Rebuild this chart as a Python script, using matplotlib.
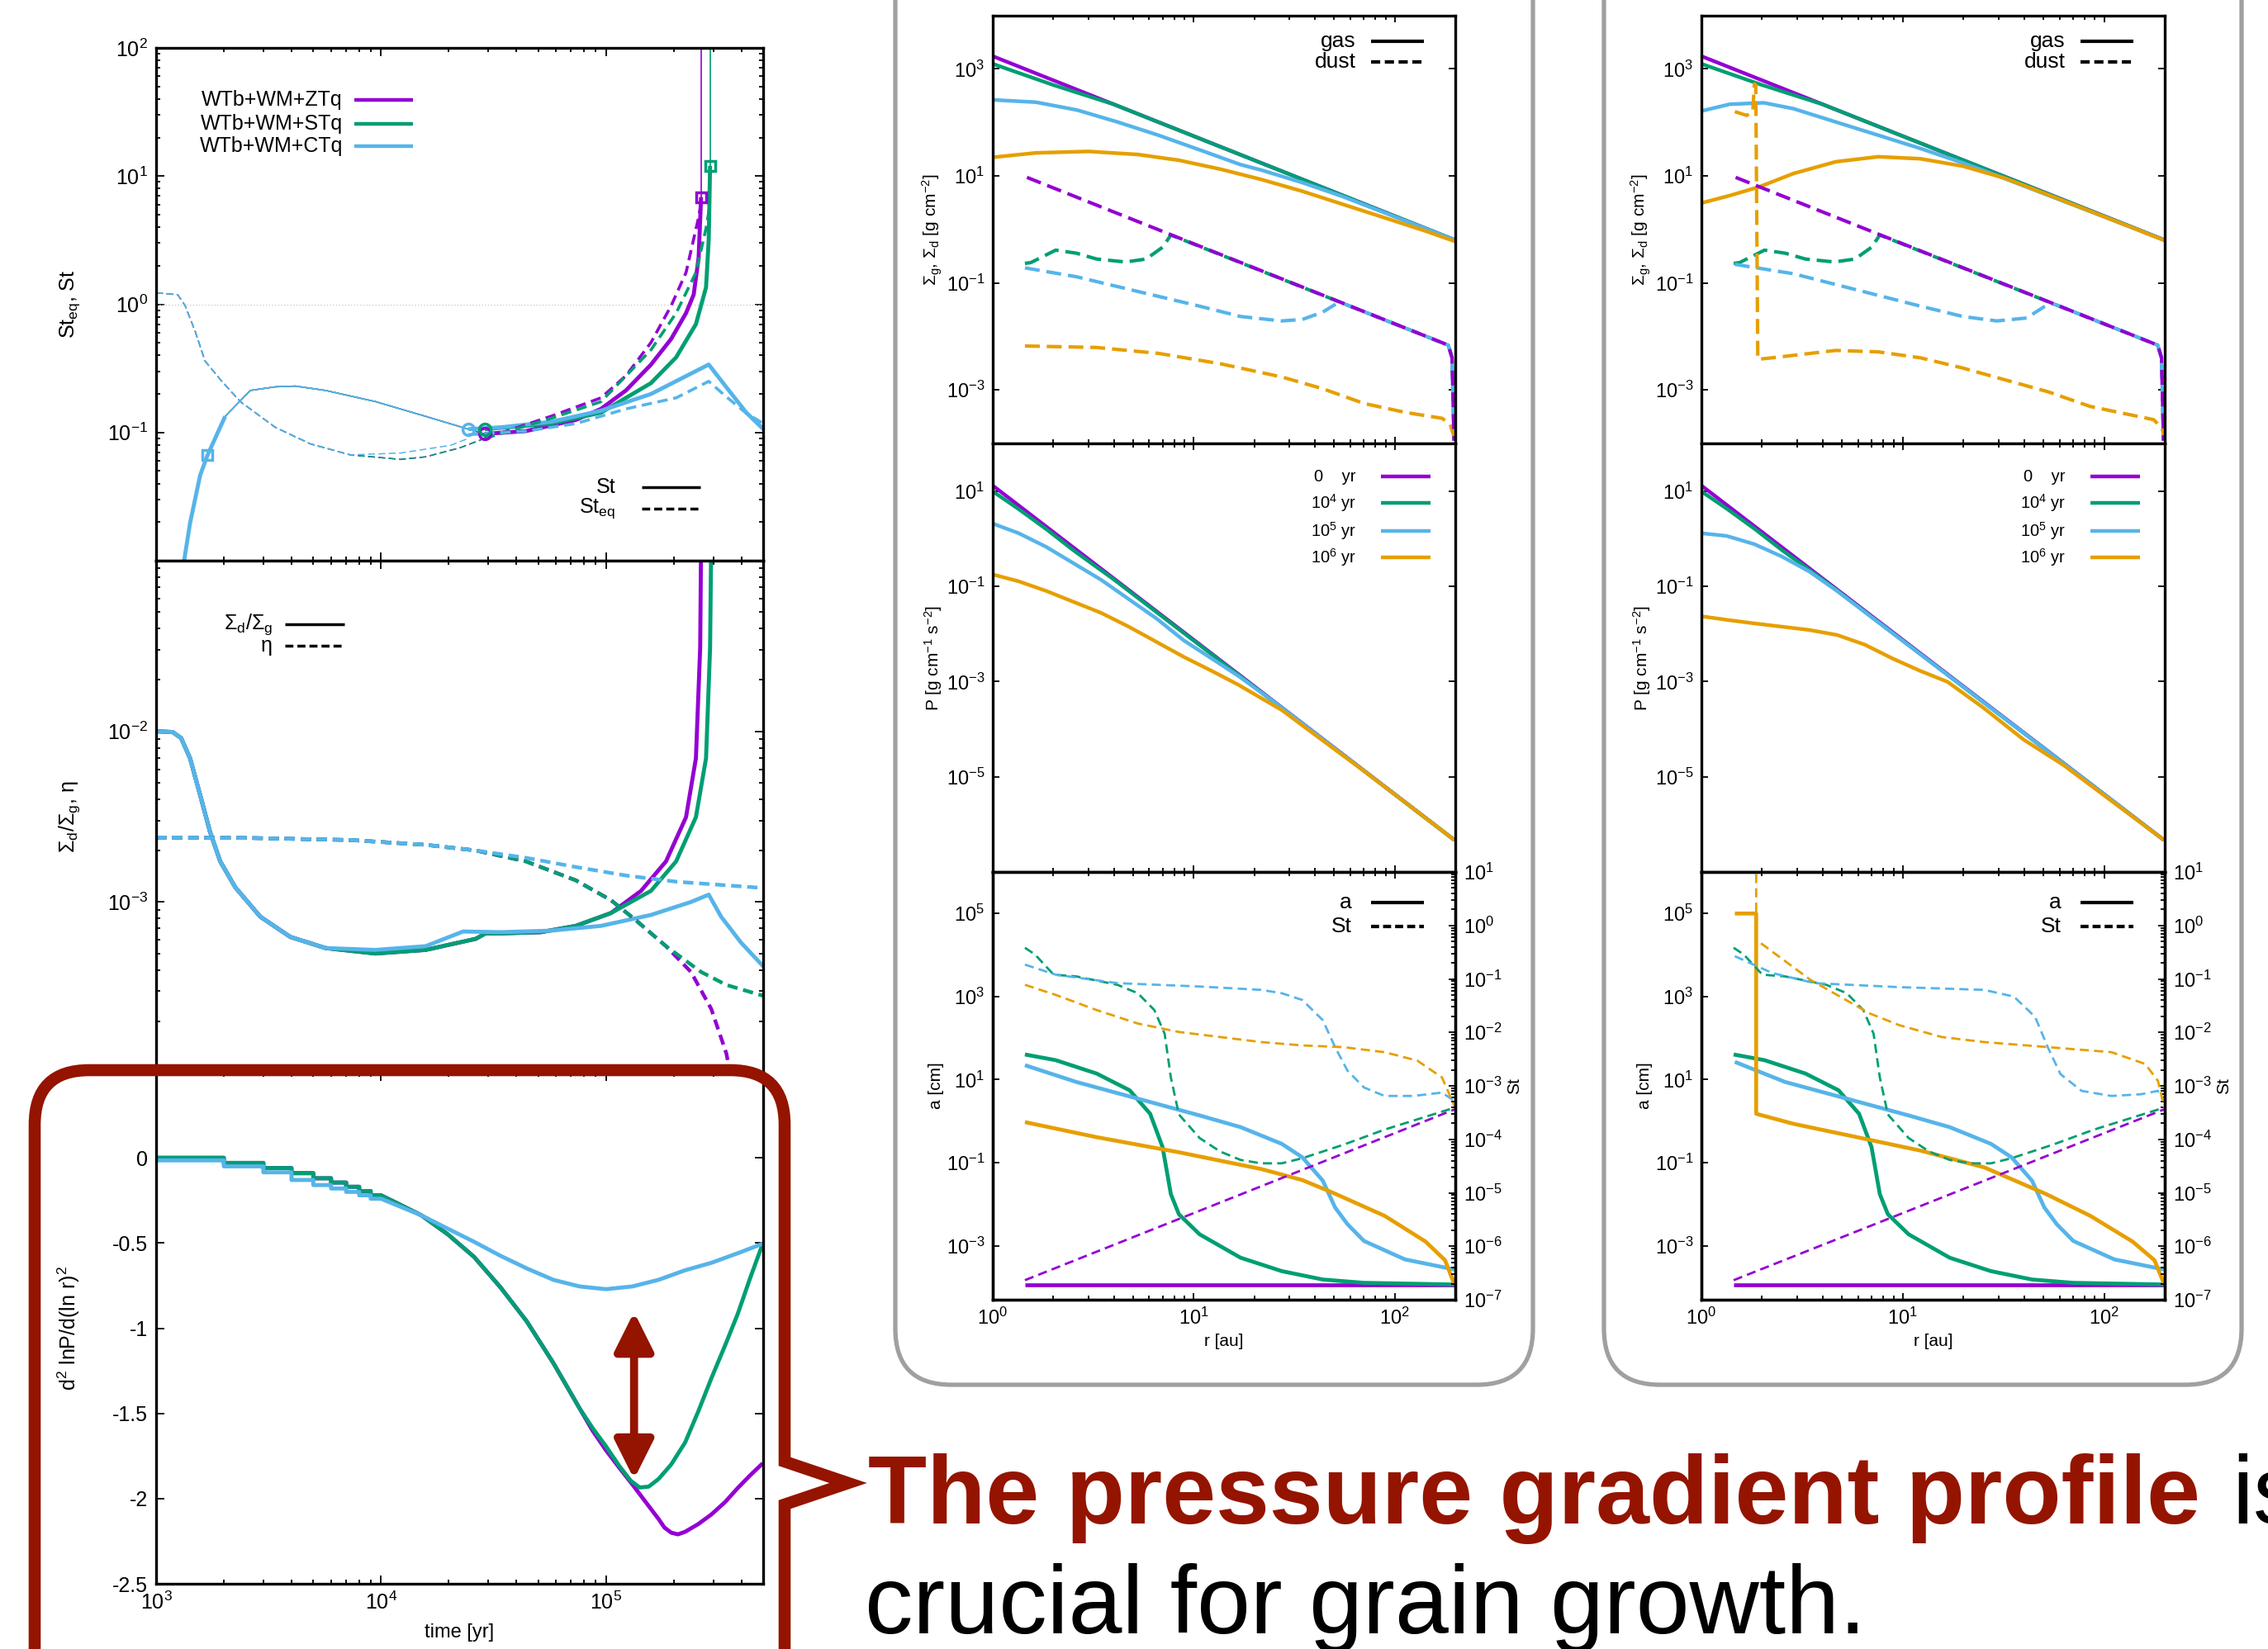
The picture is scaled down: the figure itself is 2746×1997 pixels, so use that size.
import numpy as np
import matplotlib.pyplot as plt
from matplotlib.path import Path
from matplotlib.patches import PathPatch, FancyArrowPatch
from matplotlib.ticker import LogLocator, NullLocator, NullFormatter

plt.rcParams['font.family'] = ['Liberation Sans', 'DejaVu Sans']
plt.rcParams['mathtext.fontset'] = 'custom'
plt.rcParams['mathtext.rm'] = 'Liberation Sans'
plt.rcParams['mathtext.it'] = 'Liberation Sans:italic'
plt.rcParams['mathtext.bf'] = 'Liberation Sans:bold'
plt.rcParams['mathtext.default'] = 'regular'
plt.rcParams['axes.unicode_minus'] = False
plt.rcParams['lines.scale_dashes'] = False
plt.rcParams['lines.solid_capstyle'] = 'butt'

# --- CONFIG ---
W, H, DPI = 2746, 1997, 100
PURPLE = '#9400d3'
GREEN = '#009e73'
BLUE = '#56b4e9'
ORANGE = '#e69f00'
RED = '#941400'
GRAY = '#a0a0a0'

# --- DATA (log10 of values) ---
# left column, top: St and St_eq against time [yr]
ST_THIN_T = [3.12, 3.151, 3.196, 3.229, 3.307, 3.419, 3.53, 3.619, 3.753, 3.975, 4.198, 4.388, 4.461]
ST_THIN_V = [-2.05, -1.707, -1.333, -1.175, -0.874, -0.672, -0.644, -0.638, -0.672, -0.759, -0.874, -0.974, -1.011]
ST_Z_T = [4.461, 4.644, 4.866, 4.978, 5.089, 5.2, 5.29, 5.356, 5.39, 5.412, 5.423]
ST_Z_V = [-1.011, -0.989, -0.902, -0.816, -0.672, -0.471, -0.27, -0.069, 0.075, 0.362, 0.836]
ST_S_T = [4.461, 4.755, 4.978, 5.2, 5.312, 5.4, 5.445, 5.457, 5.463]
ST_S_V = [-0.974, -0.931, -0.845, -0.615, -0.414, -0.155, 0.132, 0.506, 1.08]
ST_C_T = [4.388, 4.532, 4.755, 4.978, 5.2, 5.457, 5.534, 5.624, 5.70]
ST_C_V = [-0.974, -0.96, -0.917, -0.83, -0.70, -0.47, -0.644, -0.845, -0.974]
ST_ESC_T = [5.423, 5.463]
ST_ESC_V = [0.836, 1.08]

EQ_THIN_T = [3.0, 3.096, 3.129, 3.174, 3.218, 3.285, 3.374, 3.53, 3.686, 3.864]
EQ_THIN_V = [0.089, 0.075, -0.01, -0.213, -0.443, -0.586, -0.759, -0.96, -1.089, -1.175]
EQ_THIN_C_T = [4.087, 4.31, 4.388]
EQ_THIN_C_V = [-1.16, -1.10, -1.046]
EQ_THIN_ZS_T = [4.087, 4.198, 4.35, 4.461]
EQ_THIN_ZS_V = [-1.21, -1.19, -1.12, -1.046]
EQ_Z_T = [4.461, 4.755, 4.978, 5.089, 5.2, 5.29, 5.356, 5.412, 5.423]
EQ_Z_V = [-1.046, -0.874, -0.73, -0.557, -0.299, -0.011, 0.247, 0.678, 0.79]
EQ_S_T = [4.461, 4.755, 4.978, 5.2, 5.312, 5.4, 5.445, 5.46]
EQ_S_V = [-1.046, -0.89, -0.76, -0.356, -0.069, 0.247, 0.592, 0.75]
EQ_C_T = [4.388, 4.644, 4.866, 5.089, 5.312, 5.457, 5.534, 5.624, 5.70]
EQ_C_V = [-1.017, -0.989, -0.931, -0.816, -0.73, -0.601, -0.72, -0.85, -0.931]

SQ_T = [5.423, 5.463, 3.229]
SQ_V = [0.836, 1.08, -1.175]
CIRC_T = [4.461, 4.461, 4.388]
CIRC_V = [-1.011, -0.974, -0.974]

# left column, middle: dust-to-gas ratio and eta
DG_SH_T = [3.0, 3.073, 3.111, 3.151, 3.196, 3.24, 3.285, 3.352, 3.463, 3.597, 3.753]
DG_SH_V = [-2.0, -2.004, -2.039, -2.158, -2.374, -2.59, -2.762, -2.914, -3.086, -3.205, -3.27]
DG_Z_T = [3.975, 4.198, 4.421, 4.465, 4.532, 4.71, 4.866, 5.022, 5.156, 5.267, 5.356, 5.4, 5.419, 5.423]
DG_Z_V = [-3.302, -3.281, -3.216, -3.184, -3.184, -3.177, -3.14, -3.065, -2.935, -2.762, -2.503, -2.158, -1.51, -0.9]
DG_S_T = [3.975, 4.198, 4.421, 4.465, 4.532, 4.71, 4.866, 5.022, 5.2, 5.312, 5.4, 5.445, 5.463, 5.468]
DG_S_V = [-3.302, -3.281, -3.216, -3.184, -3.184, -3.177, -3.14, -3.065, -2.935, -2.762, -2.503, -2.158, -1.51, -0.9]
DG_C_T = [3.975, 4.198, 4.365, 4.532, 4.755, 4.978, 5.2, 5.378, 5.457, 5.512, 5.6, 5.7]
DG_C_V = [-3.281, -3.259, -3.173, -3.177, -3.168, -3.14, -3.076, -3.0, -2.957, -3.086, -3.237, -3.378]

ETA_C_T = [3.0, 3.419, 3.864, 4.198, 4.421, 4.644, 4.866, 5.089, 5.312, 5.70]
ETA_C_V = [-2.622, -2.625, -2.637, -2.665, -2.698, -2.741, -2.795, -2.845, -2.881, -2.918]
ETA_Z_T = [3.0, 3.419, 3.864, 4.198, 4.421, 4.644, 4.866, 5.022, 5.134, 5.267, 5.378, 5.468, 5.535, 5.568, 5.6]
ETA_Z_V = [-2.622, -2.625, -2.637, -2.665, -2.698, -2.762, -2.873, -2.989, -3.108, -3.259, -3.41, -3.626, -3.886, -4.1, -4.4]
ETA_S_T = [3.0, 3.419, 3.864, 4.198, 4.421, 4.644, 4.866, 5.022, 5.134, 5.267, 5.423, 5.535, 5.70]
ETA_S_V = [-2.622, -2.625, -2.637, -2.665, -2.698, -2.762, -2.873, -2.989, -3.108, -3.259, -3.41, -3.486, -3.55]

# left column, bottom: d2 lnP / d(ln r)2 (linear values, time in log10)
D2_EARLY_T = [3.0, 3.301, 3.301, 3.477, 3.477, 3.602, 3.602, 3.699, 3.699, 3.778, 3.778, 3.845, 3.845,
              3.903, 3.903, 3.954, 3.954, 4.0, 4.062, 4.18, 4.297, 4.414, 4.531, 4.648, 4.766, 4.883]
D2_EARLY_V = [0.0, 0.0, -0.03, -0.03, -0.06, -0.06, -0.09, -0.09, -0.12, -0.12, -0.145, -0.145, -0.17,
              -0.17, -0.195, -0.195, -0.22, -0.22, -0.26, -0.338, -0.449, -0.582, -0.76, -0.96, -1.204, -1.471]
D2_Z_T = [4.94, 5.0, 5.06, 5.117, 5.188, 5.234, 5.26, 5.29, 5.32, 5.352, 5.41, 5.469, 5.53, 5.586, 5.64, 5.697]
D2_Z_V = [-1.60, -1.716, -1.82, -1.916, -2.04, -2.12, -2.17, -2.20, -2.21, -2.195, -2.15, -2.093, -2.02,
          -1.938, -1.865, -1.793]
D2_S_T = [4.94, 5.0, 5.06, 5.11, 5.15, 5.19, 5.234, 5.29, 5.352, 5.41, 5.469, 5.53, 5.586, 5.64, 5.697]
D2_S_V = [-1.585, -1.693, -1.81, -1.895, -1.935, -1.93, -1.885, -1.80, -1.671, -1.49, -1.293, -1.10, -0.916,
          -0.71, -0.504]
D2_C_T = [3.0, 3.301, 3.301, 3.477, 3.477, 3.602, 3.602, 3.699, 3.699, 3.778, 3.778, 3.845, 3.845,
          3.903, 3.903, 3.954, 3.954, 4.0, 4.18, 4.297, 4.414, 4.531, 4.648, 4.766, 4.883, 5.0, 5.117,
          5.234, 5.352, 5.469, 5.586, 5.697]
D2_C_V = [-0.015, -0.015, -0.05, -0.05, -0.085, -0.085, -0.13, -0.13, -0.16, -0.16, -0.18, -0.18, -0.2,
          -0.2, -0.22, -0.22, -0.24, -0.24, -0.338, -0.416, -0.493, -0.575, -0.649, -0.716, -0.755, -0.771,
          -0.755, -0.716, -0.66, -0.616, -0.56, -0.504]
ARROW_T = 5.125
ARROW_V = (-0.905, -1.886)

# radial panels: shared curves (0 yr and 1e4 yr)
SG_P_R = [0.0, 2.3]
SG_P = [3.237, -0.2]
SG_G_R = [0.0, 0.3, 0.6, 2.3]
SG_G = [3.094, 2.70, 2.34, -0.2]
SD_P_R = [0.17, 2.266, 2.285, 2.295]
SD_P = [0.972, -2.163, -2.4, -3.95]
SD_G_R = [0.16, 0.19, 0.313, 0.415, 0.517, 0.66, 0.763, 0.845, 0.886, 2.266, 2.285, 2.295]
SD_G = [-0.636, -0.62, -0.388, -0.444, -0.554, -0.609, -0.554, -0.333, -0.105, -2.163, -2.4, -3.95]
P_P_R = [0.0, 2.297]
P_P = [1.115, -6.33]
P_G_R = [0.0, 0.129, 0.266, 0.403, 0.6, 2.297]
P_G = [0.993, 0.62, 0.2, -0.25, -0.85, -6.33]
A_P_R = [0.16, 2.297]
A_P = [-3.952, -3.952]
A_G_R = [0.16, 0.313, 0.517, 0.681, 0.783, 0.845, 0.886, 0.926, 1.029, 1.233, 1.438, 1.642, 1.847, 2.297]
A_G = [1.605, 1.468, 1.145, 0.742, 0.177, -0.629, -1.758, -2.242, -2.726, -3.29, -3.613, -3.815, -3.895, -3.935]
ST_P_R = [0.16, 2.297]
ST_P = [-6.635, -3.441]
ST_G_R = [0.16, 0.21, 0.303, 0.415, 0.62, 0.722, 0.804, 0.855, 0.886, 0.926, 1.029, 1.131, 1.233,
          1.335, 1.438, 1.54, 1.744, 1.949, 2.297]
ST_G = [-0.417, -0.543, -0.921, -0.953, -1.11, -1.268, -1.583, -2.024, -2.843, -3.535, -3.976, -4.228,
        -4.386, -4.449, -4.449, -4.354, -4.102, -3.819, -3.409]

# middle box (10^5 and 10^6 yr)
M_SG_B_R = [0.0, 0.215, 0.42, 0.62, 0.824, 1.03, 1.233, 1.335, 1.54, 1.744, 2.3]
M_SG_B = [2.421, 2.377, 2.23, 2.008, 1.76, 1.485, 1.21, 1.11, 0.875, 0.61, -0.2]
M_SG_O_R = [0.0, 0.215, 0.476, 0.722, 0.926, 1.131, 1.335, 1.54, 1.744, 1.949, 2.153, 2.3]
M_SG_O = [1.347, 1.43, 1.457, 1.40, 1.292, 1.127, 0.934, 0.713, 0.466, 0.218, -0.03, -0.225]
M_SD_B_R = [0.16, 0.415, 0.722, 1.029, 1.233, 1.438, 1.54, 1.642, 1.724, 2.266, 2.285, 2.295]
M_SD_B = [-0.719, -0.884, -1.16, -1.435, -1.628, -1.711, -1.683, -1.545, -1.355, -2.163, -2.4, -3.95]
M_SD_O_R = [0.16, 0.517, 0.824, 1.131, 1.438, 1.642, 1.847, 2.051, 2.235, 2.276, 2.297]
M_SD_O = [-2.179, -2.207, -2.317, -2.51, -2.758, -2.978, -3.253, -3.419, -3.53, -3.64, -3.91]
M_P_B_R = [0.0, 0.129, 0.266, 0.403, 0.54, 0.677, 0.814, 0.951, 1.088, 1.224, 1.4, 2.297]
M_P_B = [0.317, 0.114, -0.173, -0.52, -0.867, -1.272, -1.676, -2.139, -2.514, -2.889, -3.43, -6.33]
M_P_O_R = [0.0, 0.129, 0.266, 0.403, 0.54, 0.677, 0.814, 0.951, 1.088, 1.224, 1.438, 1.642, 1.847, 2.297]
M_P_O = [-0.752, -0.896, -1.098, -1.329, -1.561, -1.85, -2.167, -2.485, -2.774, -3.074, -3.6, -4.24, -4.88, -6.33]
M_A_B_R = [0.16, 0.415, 0.722, 1.029, 1.233, 1.438, 1.54, 1.642, 1.703, 1.765, 1.847, 2.051, 2.297]
M_A_B = [1.347, 0.944, 0.54, 0.137, -0.145, -0.548, -0.871, -1.435, -2.08, -2.484, -2.887, -3.331, -3.573]
M_A_O_R = [0.16, 0.517, 0.926, 1.335, 1.54, 1.69, 1.949, 2.153, 2.25, 2.297]
M_A_O = [-0.024, -0.387, -0.75, -1.153, -1.42, -1.72, -2.28, -2.9, -3.35, -3.935]
M_ST_B_R = [0.16, 0.313, 0.62, 1.029, 1.335, 1.438, 1.54, 1.642, 1.703, 1.765, 1.847, 1.949, 2.092, 2.235, 2.297]
M_ST_B = [-0.732, -0.921, -1.079, -1.142, -1.205, -1.268, -1.394, -1.772, -2.276, -2.717, -3.031, -3.189,
          -3.189, -3.126, -3.283]
M_ST_O_R = [0.16, 0.313, 0.517, 0.722, 0.926, 1.131, 1.335, 1.54, 1.744, 1.949, 2.112, 2.235, 2.297]
M_ST_O = [-1.11, -1.299, -1.583, -1.835, -1.992, -2.087, -2.181, -2.244, -2.276, -2.37, -2.528, -2.843, -3.378]

# right box (10^5 and 10^6 yr)
R_SG_B_R = [0.0, 0.14, 0.31, 0.457, 0.667, 0.878, 1.088, 1.3, 1.5, 2.3]
R_SG_B = [2.212, 2.339, 2.366, 2.256, 2.008, 1.76, 1.512, 1.24, 0.96, -0.2]
R_SG_O_R = [0.0, 0.14, 0.288, 0.457, 0.667, 0.878, 1.088, 1.299, 1.509, 1.72, 1.931, 2.141, 2.299]
R_SG_O = [0.493, 0.631, 0.796, 1.044, 1.264, 1.358, 1.32, 1.182, 0.955, 0.65, 0.34, 0.03, -0.205]
R_SD_B_R = [0.166, 0.457, 0.773, 1.088, 1.299, 1.467, 1.615, 1.70, 1.75, 2.266, 2.285, 2.295]
R_SD_B = [-0.653, -0.829, -1.132, -1.435, -1.628, -1.711, -1.656, -1.45, -1.394, -2.163, -2.4, -3.95]
R_SD_O_R = [0.166, 0.225, 0.255, 0.263, 0.27, 0.28, 0.352, 0.667, 0.878, 1.088, 1.299, 1.509, 1.72,
            1.931, 2.141, 2.246, 2.288, 2.299]
R_SD_O = [2.201, 2.13, 2.2, 2.72, 2.70, -2.427, -2.4, -2.262, -2.289, -2.4, -2.592, -2.813, -3.033,
          -3.309, -3.474, -3.556, -3.72, -3.915]
R_P_B_R = [0.0, 0.126, 0.263, 0.4, 0.537, 0.674, 0.811, 0.948, 1.085, 1.222, 2.297]
R_P_B = [0.114, 0.057, -0.116, -0.376, -0.693, -1.10, -1.54, -1.98, -2.42, -2.86, -6.33]
R_P_O_R = [0.0, 0.126, 0.263, 0.4, 0.537, 0.674, 0.811, 0.948, 1.085, 1.222, 1.4, 1.6, 1.8, 2.297]
R_P_O = [-1.63, -1.705, -1.78, -1.849, -1.918, -2.023, -2.225, -2.514, -2.774, -3.006, -3.55, -4.22, -4.76, -6.33]
R_A_B_R = [0.166, 0.415, 0.722, 1.029, 1.233, 1.438, 1.54, 1.642, 1.703, 1.765, 1.847, 2.051, 2.297]
R_A_B = [1.427, 0.944, 0.54, 0.137, -0.145, -0.548, -0.871, -1.435, -2.08, -2.484, -2.887, -3.331, -3.573]
R_A_O_R = [0.166, 0.263, 0.272, 0.272, 0.457, 0.773, 1.088, 1.404, 1.709, 1.931, 2.141, 2.25, 2.299]
R_A_O = [5.0, 5.0, 5.0, 0.177, -0.065, -0.387, -0.71, -1.113, -1.75, -2.28, -2.9, -3.35, -3.935]
R_ST_B_R = [0.166, 0.352, 0.562, 0.983, 1.404, 1.552, 1.657, 1.72, 1.783, 1.888, 2.036, 2.183, 2.267, 2.299]
R_ST_B = [-0.575, -0.89, -1.079, -1.154, -1.205, -1.331, -1.709, -2.276, -2.78, -3.094, -3.189, -3.157,
          -3.094, -3.283]
R_ST_O_R = [0.272, 0.272, 0.28, 0.541, 0.836, 0.983, 1.194, 1.404, 1.615, 1.825, 2.036, 2.204, 2.267, 2.299]
R_ST_O = [1.5, -0.26, -0.29, -1.016, -1.646, -1.866, -2.087, -2.181, -2.244, -2.307, -2.37, -2.591, -2.906, -3.409]

RUN_LABELS = ['WTb+WM+ZTq', 'WTb+WM+STq', 'WTb+WM+CTq']
YEAR_LABELS = ['0    yr', r'$10^4$ yr', r'$10^5$ yr', r'$10^6$ yr']


# --- HELPERS ---
fig = plt.figure(figsize=(W / DPI, H / DPI), dpi=DPI)


def frame(x0, y0, x1, y1):
    """axes from pixel box (top-left origin)"""
    return fig.add_axes([x0 / W, 1 - y1 / H, (x1 - x0) / W, (y1 - y0) / H])


def lg(v):
    return np.power(10.0, np.asarray(v, dtype=float))


def curve(ax, lx, ly, color, lw, dash=None, logy=True, **kw):
    y = lg(ly) if logy else np.asarray(ly, dtype=float)
    ln, = ax.plot(lg(lx), y, color=color, lw=lw, **kw)
    if dash is not None:
        ln.set_dashes(dash)
    return ln


def style(ax, fs, maj=7, mnr=3.5):
    ax.tick_params(which='both', direction='in', top=True, right=True, width=1.3, labelsize=fs)
    ax.tick_params(which='major', length=maj, pad=7)
    ax.tick_params(which='minor', length=mnr)
    ax.xaxis.set_minor_formatter(NullFormatter())
    ax.yaxis.set_minor_formatter(NullFormatter())
    for s in ax.spines.values():
        s.set_linewidth(2.4)


def pow_labels(exps):
    return [r'$10^{%d}$' % e for e in exps]


def key(ax, xt, x0, x1, y, label, color='black', lw=3, dash=None, fs=18):
    ax.text(xt, y, label, transform=ax.transAxes, ha='right', va='center', fontsize=fs)
    ln, = ax.plot([x0, x1], [y, y], transform=ax.transAxes, color=color, lw=lw, clip_on=False)
    if dash is not None:
        ln.set_dashes(dash)


def time_axis(ax, labels):
    ax.set_xscale('log')
    ax.set_xlim(1e3, 5e5)
    if labels:
        ax.set_xticks([1e3, 1e4, 1e5], pow_labels([3, 4, 5]))
    else:
        ax.set_xticks([1e3, 1e4, 1e5], ['', '', ''])
    ax.xaxis.set_minor_locator(LogLocator(subs=np.arange(2, 10), numticks=30))


def r_axis(ax, labels):
    ax.set_xscale('log')
    ax.set_xlim(1, 200)
    if labels:
        ax.set_xticks([1, 10, 100], pow_labels([0, 1, 2]))
    else:
        ax.set_xticks([1, 10, 100], ['', '', ''])
    ax.xaxis.set_minor_locator(LogLocator(subs=np.arange(2, 10), numticks=30))


# --- LEFT COLUMN ---
def left_column():
    DASH = (9, 5)
    axA = frame(189, 58, 924, 679)
    axB = frame(189, 679, 924, 1299)
    axC = frame(189, 1299, 924, 1918)
    for ax in (axA, axB, axC):
        style(ax, 18)

    # St / St_eq
    time_axis(axA, False)
    axA.set_yscale('log')
    axA.set_ylim(1e-2, 1e2)
    axA.set_yticks([1e-2, 1e-1, 1, 10, 100], [''] + pow_labels([-1, 0, 1, 2]))
    axA.yaxis.set_minor_locator(LogLocator(subs=np.arange(2, 10), numticks=30))
    axA.axhline(1.0, color='#c8c8c8', lw=0.8, ls=':')
    for c in (PURPLE, GREEN):
        curve(axA, ST_THIN_T, ST_THIN_V, c, 1.1)
        curve(axA, EQ_THIN_T + EQ_THIN_ZS_T, EQ_THIN_V + EQ_THIN_ZS_V, c, 1.1, dash=(6, 3))
    curve(axA, ST_THIN_T[:-1], ST_THIN_V[:-1], BLUE, 1.1)
    curve(axA, EQ_THIN_T + EQ_THIN_C_T, EQ_THIN_V + EQ_THIN_C_V, BLUE, 1.1, dash=(6, 3))
    curve(axA, ST_THIN_T[:5], ST_THIN_V[:5], BLUE, 3.5)
    curve(axA, ST_Z_T, ST_Z_V, PURPLE, 3.5)
    curve(axA, ST_S_T, ST_S_V, GREEN, 3.5)
    curve(axA, ST_C_T, ST_C_V, BLUE, 3.5)
    curve(axA, EQ_Z_T, EQ_Z_V, PURPLE, 2.6, dash=DASH)
    curve(axA, EQ_S_T, EQ_S_V, GREEN, 2.6, dash=DASH)
    curve(axA, EQ_C_T, EQ_C_V, BLUE, 2.6, dash=DASH)
    for t, v, c in zip(ST_ESC_T, ST_ESC_V, (PURPLE, GREEN)):
        curve(axA, [t, t], [v, 2.5], c, 1.2)
    for t, v, c in zip(SQ_T, SQ_V, (PURPLE, GREEN, BLUE)):
        axA.plot(lg(t), lg(v), 's', ms=9, mfc='none', mec=c, mew=2.5)
    for t, v, c in zip(CIRC_T, CIRC_V, (PURPLE, GREEN, BLUE)):
        axA.plot(lg(t), lg(v), 'o', ms=10, mfc='none', mec=c, mew=2.5)
    axA.set_ylabel(r'$St_{eq}$, St', fontsize=18)
    axA.yaxis.set_label_coords(-0.122, 0.5)
    for i, (lab, c) in enumerate(zip(RUN_LABELS, (PURPLE, GREEN, BLUE))):
        key(axA, 0.3075, 0.3265, 0.423, [0.8986, 0.852, 0.8084][i], lab, c, lw=3.2, fs=18)
    key(axA, 0.7565, 0.80, 0.8966, 0.1433, 'St', lw=2.5, fs=18)
    key(axA, 0.7565, 0.80, 0.8966, 0.1014, r'$St_{eq}$', lw=2.5, dash=(7, 3.5), fs=18)

    # dust-to-gas ratio / eta
    time_axis(axB, False)
    axB.set_yscale('log')
    axB.set_ylim(1e-4, 1e-1)
    axB.set_yticks([1e-4, 1e-3, 1e-2, 1e-1], ['', r'$10^{-3}$', r'$10^{-2}$', ''])
    axB.yaxis.set_minor_locator(LogLocator(subs=np.arange(2, 10), numticks=30))
    curve(axB, DG_SH_T + DG_Z_T, DG_SH_V + DG_Z_V, PURPLE, 3.5)
    curve(axB, DG_SH_T + DG_S_T, DG_SH_V + DG_S_V, GREEN, 3.5)
    curve(axB, DG_SH_T + DG_C_T, DG_SH_V + DG_C_V, BLUE, 3.5)
    curve(axB, ETA_Z_T, ETA_Z_V, PURPLE, 3.2, dash=DASH)
    curve(axB, ETA_S_T, ETA_S_V, GREEN, 3.2, dash=DASH)
    curve(axB, ETA_C_T, ETA_C_V, BLUE, 3.2, dash=DASH)
    axB.set_ylabel(r'$Σ_d/Σ_g$, η', fontsize=18)
    axB.yaxis.set_label_coords(-0.122, 0.5)
    key(axB, 0.1918, 0.2122, 0.3102, 0.8758, r'$Σ_d/Σ_g$', lw=2.5, fs=18)
    key(axB, 0.1918, 0.2122, 0.3102, 0.8339, 'η', lw=2.5, dash=(7, 3.5), fs=18)

    # d2 lnP / d(ln r)2
    time_axis(axC, True)
    axC.set_ylim(-2.5, 0.5)
    axC.set_yticks([-2.5, -2, -1.5, -1, -0.5, 0], ['-2.5', '-2', '-1.5', '-1', '-0.5', '0'])
    curve(axC, D2_EARLY_T + D2_Z_T, D2_EARLY_V + D2_Z_V, PURPLE, 3.5, logy=False)
    curve(axC, D2_EARLY_T + D2_S_T, D2_EARLY_V + D2_S_V, GREEN, 3.5, logy=False)
    curve(axC, D2_C_T, D2_C_V, BLUE, 3.5, logy=False)
    arrow = FancyArrowPatch((lg(ARROW_T), ARROW_V[0]), (lg(ARROW_T), ARROW_V[1]),
                            arrowstyle='<|-|>,head_length=2.6,head_width=1.3', mutation_scale=11,
                            color=RED, lw=7, shrinkA=0, shrinkB=0)
    axC.add_patch(arrow)
    axC.set_ylabel(r'$d^2$ lnP/d(ln r)$^2$', fontsize=18)
    axC.yaxis.set_label_coords(-0.122, 0.5)
    axC.set_xlabel('time [yr]', fontsize=17)
    axC.xaxis.set_label_coords(0.5, -0.078)


# --- RADIAL COLUMNS ---
def radial_column(x0, x1, sg_b, sg_o, sd_b, sd_o, p_b, p_o, a_b, a_o, st_b, st_o):
    DASH = (13, 6)
    ax1 = frame(x0, 18.6, x1, 537)
    ax2 = frame(x0, 537, x1, 1056)
    ax3 = frame(x0, 1056, x1, 1574)
    for ax, lab in ((ax1, False), (ax2, False), (ax3, True)):
        style(ax, 17, maj=6, mnr=3.5)
        r_axis(ax, lab)
        ax.set_yscale('log')
        ax.yaxis.set_minor_locator(NullLocator())

    # surface densities
    ax1.set_ylim(1e-4, 1e4)
    ax1.set_yticks([1e-3, 1e-1, 1e1, 1e3], pow_labels([-3, -1, 1, 3]))
    curve(ax1, SG_P_R, SG_P, PURPLE, 3.2)
    curve(ax1, SG_G_R, SG_G, GREEN, 3.2)
    curve(ax1, *sg_b, BLUE, 3.2)
    curve(ax1, *sg_o, ORANGE, 3.2)
    curve(ax1, SD_G_R, SD_G, GREEN, 3.0, dash=DASH)
    curve(ax1, *sd_b, BLUE, 3.0, dash=DASH)
    curve(ax1, *sd_o, ORANGE, 3.0, dash=DASH)
    curve(ax1, SD_P_R, SD_P, PURPLE, 3.0, dash=DASH)
    ax1.set_ylabel(r'$Σ_g$, $Σ_d$ [g cm$^{-2}$]', fontsize=15)
    ax1.yaxis.set_label_coords(-0.105, 0.5)
    key(ax1, 0.7857, 0.8179, 0.9321, 0.9394, 'gas', lw=3, fs=19)
    key(ax1, 0.7857, 0.8179, 0.9321, 0.8912, 'dust', lw=3, dash=(8, 4), fs=19)

    # pressure
    ax2.set_ylim(1e-7, 1e2)
    ax2.set_yticks([1e-5, 1e-3, 1e-1, 1e1], pow_labels([-5, -3, -1, 1]))
    curve(ax2, P_P_R, P_P, PURPLE, 3.2)
    curve(ax2, P_G_R, P_G, GREEN, 3.2)
    curve(ax2, *p_b, BLUE, 3.2)
    curve(ax2, *p_o, ORANGE, 3.2)
    ax2.set_ylabel(r'P [g cm$^{-1}$ s$^{-2}$]', fontsize=15)
    ax2.yaxis.set_label_coords(-0.105, 0.5)
    for lab, c, y in zip(YEAR_LABELS, (PURPLE, GREEN, BLUE, ORANGE), (0.9229, 0.8613, 0.7958, 0.7341)):
        key(ax2, 0.7857, 0.8393, 0.9464, y, lab, c, lw=3.2, fs=14.5)

    # grain size and Stokes number
    ax3.set_ylim(5e-5, 1e6)
    ax3.set_yticks([1e-3, 1e-1, 1e1, 1e3, 1e5], pow_labels([-3, -1, 1, 3, 5]))
    ax3.tick_params(axis='y', which='both', right=False)
    axs = ax3.twinx()
    axs.set_yscale('log')
    axs.set_ylim(1e-7, 1e1)
    axs.set_yticks([10.0 ** k for k in range(-7, 2)], pow_labels(range(-7, 2)))
    axs.yaxis.set_minor_locator(LogLocator(subs=np.arange(2, 10), numticks=30))
    axs.yaxis.set_minor_formatter(NullFormatter())
    axs.tick_params(axis='y', which='both', direction='in', labelsize=17, width=1.3, pad=7)
    axs.tick_params(axis='y', which='major', length=6)
    axs.tick_params(axis='y', which='minor', length=3.5)
    for s in axs.spines.values():
        s.set_linewidth(2.4)
    curve(ax3, A_P_R, A_P, PURPLE, 3.4)
    curve(ax3, A_G_R, A_G, GREEN, 3.4)
    curve(ax3, *a_b, BLUE, 3.4)
    curve(ax3, *a_o, ORANGE, 3.4)
    curve(axs, ST_P_R, ST_P, PURPLE, 2.0, dash=(8, 4.5))
    curve(axs, ST_G_R, ST_G, GREEN, 2.0, dash=(8, 4.5))
    curve(axs, *st_b, BLUE, 2.0, dash=(8, 4.5))
    curve(axs, *st_o, ORANGE, 2.0, dash=(8, 4.5))
    ax3.set_ylabel('a [cm]', fontsize=15)
    ax3.yaxis.set_label_coords(-0.105, 0.5)
    axs.set_ylabel('St', fontsize=15)
    axs.yaxis.set_label_coords(1.11, 0.5)
    ax3.set_xlabel('r [au]', fontsize=15)
    ax3.xaxis.set_label_coords(0.5, -0.08)
    key(ax3, 0.7768, 0.8179, 0.9321, 0.9286, 'a', lw=3, fs=19)
    key(ax3, 0.7768, 0.8179, 0.9321, 0.8726, 'St', lw=3, dash=(7, 3.5), fs=19)


# --- OVERLAY: frames and message ---
def overlay():
    ov = fig.add_axes([0, 0, 1, 1], zorder=10)
    ov.set_xlim(0, W)
    ov.set_ylim(H, 0)
    ov.axis('off')
    ov.patch.set_alpha(0)

    M, L, C3 = Path.MOVETO, Path.LINETO, Path.CURVE3
    r = 68
    for left, right in ((1084, 1856), (1942, 2714)):
        b = 1677
        verts = [(left, -60), (left, b - r), (left, b), (left + r, b), (right - r, b),
                 (right, b), (right, b - r), (right, -60)]
        codes = [M, L, C3, C3, L, C3, C3, L]
        ov.add_patch(PathPatch(Path(verts, codes), fill=False, edgecolor=GRAY, lw=3.8))

    left, right, top, rr = 42, 950, 1296, 66
    verts = [(left, H + 80), (left, top + rr), (left, top), (left + rr, top), (right - rr, top),
             (right, top), (right, top + rr), (right, 1770), (1027, 1796), (right, 1822), (right, H + 80)]
    codes = [M, L, C3, C3, L, C3, C3, L, L, L, L]
    ov.add_patch(PathPatch(Path(verts, codes), fill=False, edgecolor=RED, lw=10.5,
                           joinstyle='miter', capstyle='butt'))

    t1 = ov.text(1051, 1845, 'The pressure gradient profile', fontsize=84, fontweight='bold',
                 color=RED, ha='left', va='baseline')
    fig.canvas.draw()
    bb = t1.get_window_extent()
    ov.text(bb.x1 + 38, 1845, 'is', fontsize=84, color='black', ha='left', va='baseline')
    ov.text(1047, 1978, 'crucial for grain growth.', fontsize=84, color='black', ha='left', va='baseline')


# --- MAIN ---
def main():
    left_column()
    radial_column(1202, 1762, (M_SG_B_R, M_SG_B), (M_SG_O_R, M_SG_O), (M_SD_B_R, M_SD_B),
                  (M_SD_O_R, M_SD_O), (M_P_B_R, M_P_B), (M_P_O_R, M_P_O), (M_A_B_R, M_A_B),
                  (M_A_O_R, M_A_O), (M_ST_B_R, M_ST_B), (M_ST_O_R, M_ST_O))
    radial_column(2060, 2621, (R_SG_B_R, R_SG_B), (R_SG_O_R, R_SG_O), (R_SD_B_R, R_SD_B),
                  (R_SD_O_R, R_SD_O), (R_P_B_R, R_P_B), (R_P_O_R, R_P_O), (R_A_B_R, R_A_B),
                  (R_A_O_R, R_A_O), (R_ST_B_R, R_ST_B), (R_ST_O_R, R_ST_O))
    overlay()
    fig.savefig('out.png', dpi=DPI)
    plt.close(fig)


if __name__ == '__main__':
    main()
